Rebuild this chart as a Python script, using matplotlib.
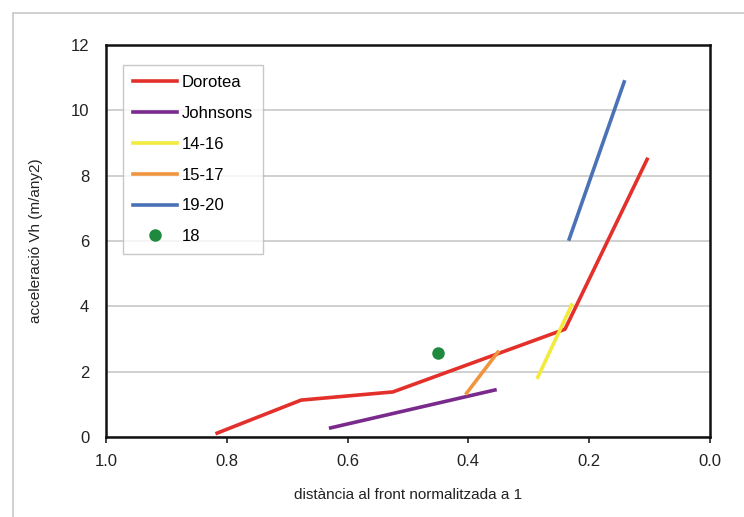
import matplotlib
matplotlib.use("Agg")
import matplotlib.pyplot as plt
from matplotlib.patches import Rectangle

plt.rcParams["font.family"] = ["Liberation Sans", "DejaVu Sans"]

# Series (x = normalised distance to front)
dorotea_x = [0.816, 0.677, 0.525, 0.240, 0.104]
dorotea_y = [0.12, 1.13, 1.38, 3.30, 8.50]
johnsons_x = [0.628, 0.356]
johnsons_y = [0.28, 1.44]
s1416_x = [0.285, 0.229]
s1416_y = [1.83, 4.04]
s1517_x = [0.403, 0.351]
s1517_y = [1.34, 2.60]
s1920_x = [0.233, 0.142]
s1920_y = [6.06, 10.87]
p18_x = [0.45]
p18_y = [2.57]

x_ticks = [1.0, 0.8, 0.6, 0.4, 0.2, 0.0]
y_ticks = [0, 2, 4, 6, 8, 10, 12]

fig = plt.figure(figsize=(7.44, 5.17), dpi=100)
ax = fig.add_axes([0.1425, 0.1547, 0.8117, 0.7583])

# outer frame of the chart area
fig.patches.append(Rectangle((0.017, -0.01), 1.2, 0.985, transform=fig.transFigure,
                             fill=False, edgecolor="#c8c8c8", linewidth=1.2))

ax.plot(dorotea_x, dorotea_y, color="#e3302b", lw=2.6, label="Dorotea")
ax.plot(johnsons_x, johnsons_y, color="#7a2a8c", lw=2.6, label="Johnsons")
ax.plot(s1416_x, s1416_y, color="#f2ea3c", lw=2.6, label="14-16")
ax.plot(s1517_x, s1517_y, color="#ef9540", lw=2.6, label="15-17")
ax.plot(s1920_x, s1920_y, color="#4a72b6", lw=2.6, label="19-20")
ax.plot(p18_x, p18_y, "o", color="#1f8a3e", ms=8, label="18", linestyle="none")

ax.set_xlim(1.0, 0.0)
ax.set_ylim(0, 12)
ax.set_xticks(x_ticks)
ax.set_xticklabels([f"{v:.1f}" for v in x_ticks])
ax.set_yticks(y_ticks)
ax.tick_params(labelsize=12, colors="#222222", length=4, width=1.2, pad=8)
ax.tick_params(axis="y", length=0, pad=12)
ax.yaxis.grid(True, color="#c8c8c8", lw=1.2)
ax.set_axisbelow(True)
for s in ax.spines.values():
    s.set_linewidth(1.8)
    s.set_color("#111111")

ax.set_xlabel("distància al front normalitzada a 1", fontsize=11, color="#222222", labelpad=14)
ax.set_ylabel("acceleració Vh (m/any2)", fontsize=11, color="#222222", labelpad=20)

leg = ax.legend(loc="upper left", bbox_to_anchor=(0.015, 0.97), fontsize=12,
                frameon=True, fancybox=False, edgecolor="#bbbbbb",
                handlelength=2.6, labelspacing=0.95, borderpad=0.6, handletextpad=0.3)
leg.get_frame().set_linewidth(1.0)

fig.savefig("out.png", dpi=100)
